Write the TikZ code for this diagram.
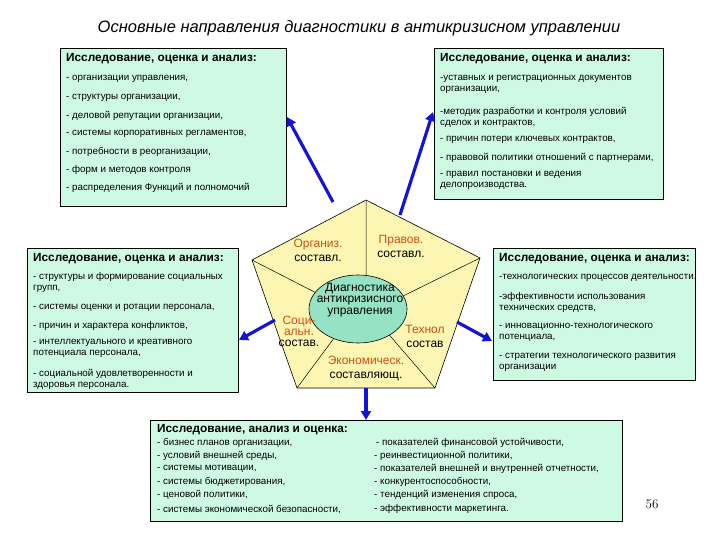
\documentclass[tikz,border=0pt]{standalone}
\usepackage{fontspec}
\setmainfont{Liberation Sans}
\usetikzlibrary{arrows.meta}
\begin{document}
\begin{tikzpicture}[x=1pt,y=-1pt,
  box/.style={draw=black,line width=0.8pt,fill=boxg},
  hd/.style={anchor=west,font=\bfseries\fontsize{11.8}{13}\selectfont,inner sep=0},
  li/.style={anchor=west,font=\fontsize{9.8}{11}\selectfont,inner sep=0,align=left},
  lab/.style={font=\fontsize{12}{13}\selectfont,inner sep=0,align=center},
  arr/.style={draw=arrb,line width=3.2pt,-{Triangle[length=9pt,width=10pt]}}]
\definecolor{boxg}{RGB}{206,250,228}
\definecolor{peny}{RGB}{252,246,178}
\definecolor{ellg}{RGB}{150,226,196}
\definecolor{orng}{RGB}{205,80,20}
\definecolor{arrb}{RGB}{20,20,215}
\useasboundingbox (0,0) rectangle (720,540);
\node[font=\itshape\fontsize{16.5}{18}\selectfont] (title) at (359,28) {Основные направления диагностики в антикризисном управлении};
% boxes
\draw[box] (60,48) rectangle (286,206);
\draw[box] (434,48) rectangle (663,199);
\draw[box] (27,248) rectangle (238,392);
\draw[box] (493,248) rectangle (695,380);
\draw[box] (150,420) rectangle (622,521);
% TL
\node[hd] (h1) at (66,59) {Исследование, оценка и анализ:};
\node[li] (a1) at (66,79) {- организации управления,};
\node[li] (a2) at (66,98) {- структуры организации,};
\node[li] (a3) at (66,116) {- деловой репутации организации,};
\node[li] (a4) at (66,134) {- системы корпоративных регламентов,};
\node[li] (a5) at (66,152) {- потребности в реорганизации,};
\node[li] (a6) at (66,170) {- форм и методов контроля};
\node[li] (a7) at (66,188) {- распределения Функций и полномочий};
% TR
\node[hd] (h2) at (440,59) {Исследование, оценка и анализ:};
\node[li] (b1) at (440,84) {-уставных и регистрационных документов\\организации,};
\node[li] (b2) at (440,117) {-методик разработки и контроля условий\\сделок и контрактов,};
\node[li] (b3) at (440,140) {- причин потери ключевых контрактов,};
\node[li] (b4) at (440,158) {- правовой политики отношений с партнерами,};
\node[li] (b5) at (440,180) {- правил постановки и ведения\\делопроизводства.};
% ML
\node[hd] (h3) at (33,259) {Исследование, оценка и анализ:};
\node[li] (c1) at (33,282) {- структуры и формирование социальных\\групп,};
\node[li] (c2) at (33,308) {- системы оценки и ротации персонала,};
\node[li] (c3) at (33,326) {- причин и характера конфликтов,};
\node[li] (c4) at (33,348) {- интеллектуального и креативного\\потенциала персонала,};
\node[li] (c5) at (33,379) {- социальной удовлетворенности и\\здоровья персонала.};
% MR
\node[hd] (h4) at (499,259) {Исследование, оценка и анализ:};
\node[li] (d1) at (499,278) {-технологических процессов деятельности,};
\node[li] (d2) at (499,302) {-эффективности использования\\технических средств,};
\node[li] (d3) at (499,332) {- инновационно-технологического\\потенциала,};
\node[li] (d4) at (499,362) {- стратегии технологического развития\\организации};
% bottom
\node[hd] (h5) at (157,430) {Исследование, анализ и оценка:};
\node[li] (e1) at (157,443) {- бизнес планов организации,};
\node[li] (e2) at (157,456) {- условий внешней среды,};
\node[li] (e3) at (157,469) {- системы мотивации,};
\node[li] (e4) at (157,482) {- системы бюджетирования,};
\node[li] (e5) at (157,495) {- ценовой политики,};
\node[li] (e6) at (157,509) {- системы экономической безопасности,};
\node[li] (f1) at (376,443) {- показателей финансовой устойчивости,};
\node[li] (f2) at (374,456) {- реинвестиционной политики,};
\node[li] (f3) at (374,469) {- показателей внешней и внутренней отчетности,};
\node[li] (f4) at (374,482) {- конкурентоспособности,};
\node[li] (f5) at (374,495) {- тенденций изменения спроса,};
\node[li] (f6) at (374,509) {- эффективности маркетинга.};
\node[font=\fontfamily{lmr}\selectfont\fontsize{13}{15}\selectfont] (pg) at (652,504) {56};
% pentagon
\coordinate (pt) at (366,200);
\coordinate (pl) at (252,260);
\coordinate (pr) at (480,258);
\coordinate (pbl) at (297,388);
\coordinate (pbr) at (435,388);
\draw[fill=peny,line width=0.6pt] (pt) -- (pr) -- (pbr) -- (pbl) -- (pl) -- cycle;
\draw[line width=0.5pt] (pt) -- (366,280) (pl) -- (330,300) (pr) -- (395,300) (pbl) -- (340,330) (pbr) -- (385,330);
\draw[fill=ellg,line width=0.6pt] (358,309) ellipse [x radius=49pt, y radius=34pt];
\node[lab,font=\fontsize{12}{11.5}\selectfont] (ell) at (360,300) {Диагностика\\антикризисного\\управления};
\node[lab] (s1) at (318,250) {\textcolor{orng}{Организ.}\\[1pt]составл.};
\node[lab] (s2) at (401,246) {\textcolor{orng}{Правов.}\\[1pt]составл.};
\node[lab] (s3) at (299,331) {\textcolor{orng}{Соци-}\\[-2pt]\textcolor{orng}{альн.}\\[-2pt]состав.};
\node[lab] (s4) at (425,336) {\textcolor{orng}{Технол}\\[1pt]состав};
\node[lab] (s5) at (366,369) {\textcolor{orng}{Экономическ.}\\[1pt]составляющ.};
% arrows
\draw[arr] (333,202) -- (287,117);
\draw[arr] (400,215) -- (433,112);
\draw[arr] (275,320) -- (239,340);
\draw[arr] (457,322) -- (492,341);
\draw[arr] (366,388) -- (366,420);
\end{tikzpicture}
\end{document}
